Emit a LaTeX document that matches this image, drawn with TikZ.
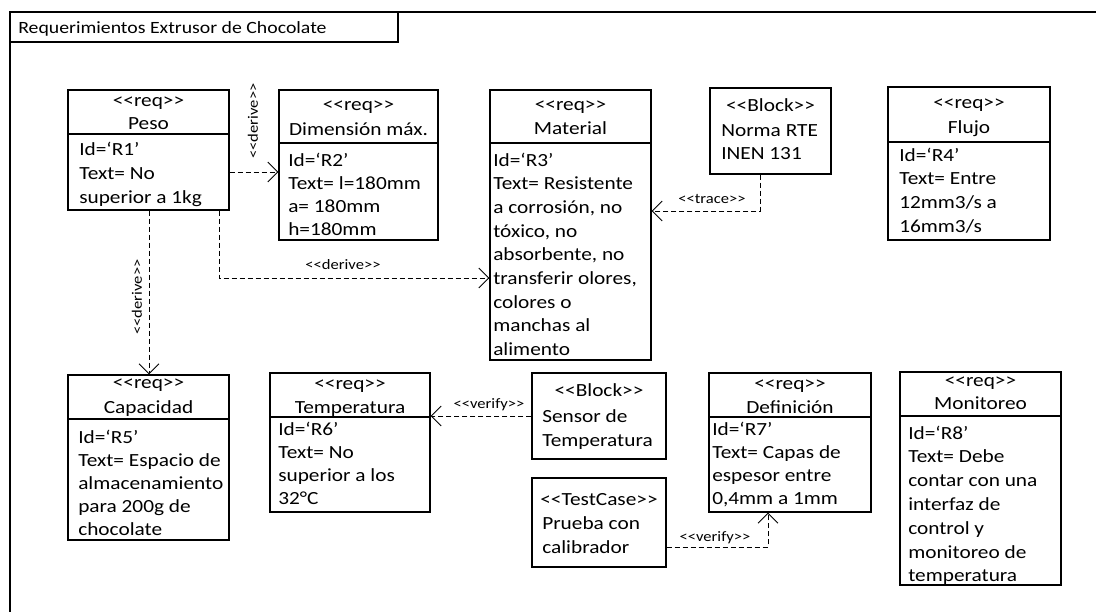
\documentclass[tikz,border=0pt]{standalone}
\usepackage{fontspec}
\setmainfont{Carlito}[FakeStretch=1.15]
\usetikzlibrary{arrows.meta,fit}

\newdimen\pxu \pxu=0.75pt
\newcommand\lft[2]{\vtop{\baselineskip=#1\pxu\lineskiplimit=-\maxdimen\lineskip=0pt\halign{##\hfil\cr#2\crcr}}}
\newcommand\ctr[2]{\vtop{\baselineskip=#1\pxu\lineskiplimit=-\maxdimen\lineskip=0pt\halign{\hfil##\hfil\cr#2\crcr}}}
\newcommand\stereo[1]{<{}<#1>{}>}

\tikzset{
  box/.style={draw=black, line width=0.8pt, inner sep=0pt},
  sepline/.style={draw=black, line width=0.8pt},
  body/.style={inner sep=0pt, anchor=base west, font=\fontsize{13.9pt}{17pt}\selectfont},
  head/.style={inner sep=0pt, anchor=base, font=\fontsize{13.9pt}{17pt}\selectfont},
  lbl/.style={inner sep=0pt, font=\fontsize{10.8pt}{13pt}\selectfont},
  dep/.style={draw=black, line width=0.7pt, dash pattern=on 3.75pt off 2.25pt,
              -{Straight Barb[length=7.5pt,width=15pt,line width=0.7pt]}},
}

\begin{document}
\begin{tikzpicture}[x=0.75pt, y=-0.75pt]
\useasboundingbox (0,0) rectangle (1096,612);
% frame
\draw[line width=0.8pt] (1096,12) -- (10,12) -- (10,612);
\node[box, fit={(10,12)(398,42)}] (title) {};
\node[inner sep=0pt, anchor=base west, font=\fontsize{12.9pt}{15pt}\selectfont] (titletxt) at (18,33) {Requerimientos Extrusor de Chocolate};

% Peso
\node[box, fit={(68,90)(229,210)}] (peso) {};
\draw[sepline] (68,134) -- (229,134);
\node[head] (pesoh) at (148.5,106) {\ctr{23}{\stereo{req}\cr Peso}};
\node[body] (pesob) at (79,155) {\lft{24}{Id=‘R1’\cr Text= No\cr superior a 1kg}};

% Dimension
\node[box, fit={(279,90)(438,240)}] (dim) {};
\draw[sepline] (279,143) -- (438,143);
\node[head] (dimh) at (358.5,110) {\ctr{25}{\stereo{req}\cr Dimensión máx.}};
\node[body] (dimb) at (288,166) {\lft{23}{Id=‘R2’\cr Text= l=180mm\cr a= 180mm\cr h=180mm}};

% Material
\node[box, fit={(490,90)(651,360)}] (mat) {};
\draw[sepline] (490,143) -- (651,143);
\node[head] (math) at (570.5,110) {\ctr{24}{\stereo{req}\cr Material}};
\node[body] (matb) at (493,166) {\lft{23.7}{Id=‘R3’\cr Text= Resistente\cr a corrosión, no\cr tóxico, no\cr absorbente, no\cr transferir olores,\cr colores o\cr manchas al\cr alimento}};

% Norma
\node[box, fit={(710,88)(831,174)}] (norma) {};
\node[head] (normah) at (770.5,111) {\stereo{Block}};
\node[body] (normab) at (721,136) {\lft{23}{Norma RTE\cr INEN 131}};

% Flujo
\node[box, fit={(888,87)(1050,240)}] (flujo) {};
\draw[sepline] (888,142) -- (1050,142);
\node[head] (flujoh) at (969,108) {\ctr{25}{\stereo{req}\cr Flujo}};
\node[body] (flujob) at (899,161) {\lft{23.7}{Id=‘R4’\cr Text= Entre\cr 12mm3/s a\cr 16mm3/s}};

% Capacidad
\node[box, fit={(68,375)(229,540)}] (cap) {};
\draw[sepline] (68,419) -- (229,419);
\node[head] (caph) at (148.5,388) {\ctr{25}{\stereo{req}\cr Capacidad}};
\node[body] (capb) at (78,443) {\lft{23.2}{Id=‘R5’\cr Text= Espacio de\cr almacenamiento\cr para 200g de\cr chocolate}};

% Temperatura
\node[box, fit={(270,373)(430,512)}] (temp) {};
\draw[sepline] (270,417) -- (430,417);
\node[head] (temph) at (350,389) {\ctr{24}{\stereo{req}\cr Temperatura}};
\node[body] (tempb) at (278,435) {\lft{23.3}{Id=‘R6’\cr Text= No\cr superior a los\cr 32°C}};

% Sensor
\node[box, fit={(532,373)(666,459)}] (sensor) {};
\node[head] (sensorh) at (599,396) {\stereo{Block}};
\node[body] (sensorb) at (542,422) {\lft{24}{Sensor de\cr Temperatura}};

% Definicion
\node[box, fit={(709,373)(871,512)}] (def) {};
\draw[sepline] (709,417) -- (871,417);
\node[head] (defh) at (790,389) {\ctr{24}{\stereo{req}\cr Definición}};
\node[body] (defb) at (712,435) {\lft{23.3}{Id=‘R7’\cr Text= Capas de\cr espesor entre\cr 0,4mm a 1mm}};

% TestCase
\node[box, fit={(532,478)(666,567)}] (test) {};
\node[head] (testh) at (599,505) {\stereo{TestCase}};
\node[body] (testb) at (542,529) {\lft{24}{Prueba con\cr calibrador}};

% Monitoreo
\node[box, fit={(900,372)(1061,585)}] (mon) {};
\draw[sepline] (900,416) -- (1061,416);
\node[head] (monh) at (980.5,386) {\ctr{23}{\stereo{req}\cr Monitoreo}};
\node[body] (monb) at (908,439) {\lft{23.8}{Id=‘R8’\cr Text= Debe\cr contar con una\cr interfaz de\cr control y\cr monitoreo de\cr temperatura}};

% connectors
\coordinate (k1) at (0,172);
\coordinate (d1) at (219,278);
\coordinate (d2) at (149,0);
\coordinate (t1) at (760,211);
\coordinate (v1) at (0,416);
\coordinate (v2) at (768,547);

\draw[dep] (k1 -| peso.east) -- (k1 -| dim.west);
\draw[dep] (d1 |- peso.south) -- (d1) -- (d1 -| mat.west);
\draw[dep] (d2 |- peso.south) -- (d2 |- cap.north);
\draw[dep] (t1 |- norma.south) -- (t1) -- (t1 -| mat.east);
\draw[dep] (v1 -| sensor.west) -- (v1 -| temp.east);
\draw[dep] (v2 -| test.east) -- (v2) -- (v2 |- def.south);

% labels
\node[lbl, rotate=90] (l1) at (253,121) {\stereo{derive}};
\node[lbl] (l2) at (343,265) {\stereo{derive}};
\node[lbl, rotate=90] (l3) at (137,297) {\stereo{derive}};
\node[lbl] (l4) at (712,199) {\stereo{trace}};
\node[lbl] (l5) at (489,405) {\stereo{verify}};
\node[lbl] (l6) at (715,538) {\stereo{verify}};
\end{tikzpicture}
\end{document}
